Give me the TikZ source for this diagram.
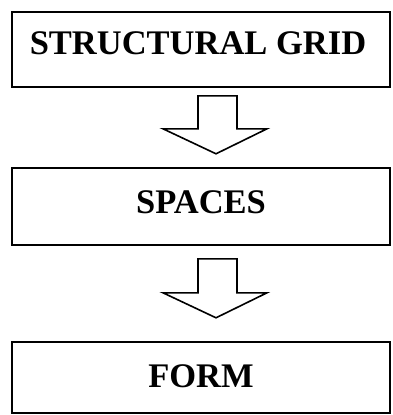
\documentclass[tikz,border=0pt]{standalone}
\usepackage{fontspec}
\setmainfont{Liberation Serif}
\begin{document}
\begin{tikzpicture}[x=1pt,y=-1pt,
  box/.style={draw=black, line width=1.6pt, rectangle, minimum width=378pt, inner sep=0pt},
  lbl/.style={font=\fontsize{34.5}{38}\selectfont\bfseries, inner sep=0pt},
  blockarr/.style={draw=black, line width=1.6pt, line join=miter, fill=white}]
\useasboundingbox (0,0) rectangle (392,415);
\node[box, minimum height=75pt] (b1) at (201,49.5) {};
\node[box, minimum height=77pt] (b2) at (201,206.5) {};
\node[box, minimum height=71pt] (b3) at (201,377.5) {};
\node[lbl] (t1) at (198,43) {STRUCTURAL GRID};
\node[lbl] (t2) at (201,202) {SPACES};
\node[lbl] (t3) at (201,376) {FORM};
\draw[blockarr, shift={(b1.south)}] (-3,8) -- (36,8) -- (36,41) -- (66,41) -- (15,66) -- (-38,41) -- (-3,41) -- cycle;
\draw[blockarr, shift={(b2.south)}] (-3,13) -- (36,13) -- (36,47) -- (66,47) -- (15,72) -- (-38,47) -- (-3,47) -- cycle;
\end{tikzpicture}
\end{document}
